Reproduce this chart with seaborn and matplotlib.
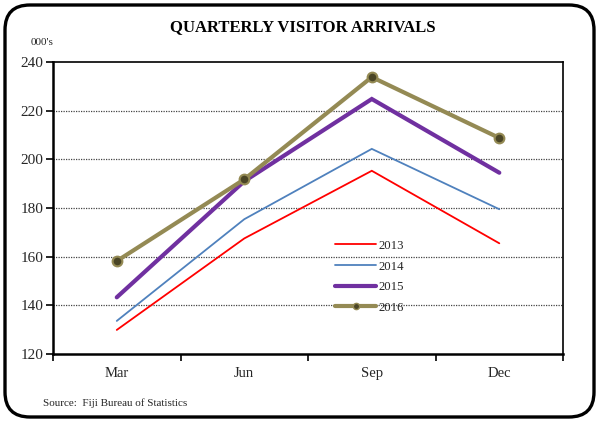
"""
Quarterly visitor arrivals line chart (Fiji Bureau of Statistics).
"""
import numpy as np
import pandas as pd
import matplotlib
matplotlib.use("Agg")
import matplotlib.pyplot as plt
import seaborn as sns
from matplotlib.patches import FancyBboxPatch

# ─────────────────────────────────────────────
# Data (thousands of visitors)
# ─────────────────────────────────────────────
QUARTERS = ["Mar", "Jun", "Sep", "Dec"]
V_2013 = [129.9, 167.5, 195.3, 165.5]
V_2014 = [133.6, 175.4, 204.3, 179.5]
V_2015 = [143.3, 191.0, 224.8, 194.5]
V_2016 = [158.2, 191.8, 233.8, 208.8]
YEARS = ["2013", "2014", "2015", "2016"]
Y_TICKS = [120, 140, 160, 180, 200, 220, 240]

TITLE = "QUARTERLY VISITOR ARRIVALS"
UNIT = "000's"
SOURCE = "Source:  Fiji Bureau of Statistics"

# ─────────────────────────────────────────────
# Styles
# ─────────────────────────────────────────────
STYLES = {
    "2013": dict(color="#FF0000", lw=1.3),
    "2014": dict(color="#4F81BD", lw=1.3),
    "2015": dict(color="#7030A0", lw=3.0),
    "2016": dict(color="#948A54", lw=3.0, marker="o", ms=7,
                 mfc="#4A4526", mec="#948A54", mew=1.5),
}

sns.set_theme(style="white")
plt.rcParams["font.family"] = ["Liberation Serif", "DejaVu Serif"]

df = pd.DataFrame({
    "quarter": QUARTERS * 4,
    "value": V_2013 + V_2014 + V_2015 + V_2016,
    "year": np.repeat(YEARS, len(QUARTERS)),
})

fig = plt.figure(figsize=(5.99, 4.21), dpi=100)
ax = fig.add_axes([0.0885, 0.1591, 0.8515, 0.6936])

for yr in YEARS:
    st = STYLES[yr]
    sub = df[df["year"] == yr]
    kw = dict(color=st["color"], linewidth=st["lw"], label=yr, ax=ax,
              solid_joinstyle="miter")
    if "marker" in st:
        kw.update(marker=st["marker"], markersize=st["ms"],
                  markerfacecolor=st["mfc"], markeredgecolor=st["mec"],
                  markeredgewidth=st["mew"])
    sns.lineplot(data=sub, x="quarter", y="value", **kw)

# axes
ax.set_xlim(-0.5, 3.5)
ax.set_ylim(120, 240)
ax.set_yticks(Y_TICKS)
ax.set_xticks([-0.5, 0.5, 1.5, 2.5, 3.5])
ax.set_xticklabels([])
ax.set_xticks(range(len(QUARTERS)), minor=True)
ax.set_xticklabels(QUARTERS, minor=True, fontsize=10.5)
ax.tick_params(axis="x", which="major", direction="out", length=5,
               width=1.2, color="black", bottom=True)
ax.tick_params(axis="x", which="minor", length=0, pad=9)
ax.tick_params(axis="y", direction="out", length=5, width=1.2,
               color="black", left=True, labelsize=11, pad=2)
ax.set_xlabel("")
ax.set_ylabel("")

for side in ["top", "right", "bottom", "left"]:
    ax.spines[side].set_visible(True)
    ax.spines[side].set_color("black")
    ax.spines[side].set_linewidth(1.2)
ax.spines["left"].set_linewidth(1.8)
ax.spines["bottom"].set_linewidth(1.8)

for yv in Y_TICKS[1:-1]:
    ax.axhline(yv, color="#444444", lw=0.9, ls=(0, (1, 1)), zorder=0.5)

leg = ax.legend(loc="upper left", bbox_to_anchor=(0.553, 0.391),
                frameon=False, fontsize=9.2, handlelength=3.2,
                handletextpad=0.2, labelspacing=0.68, borderpad=0,
                borderaxespad=0)
for h in leg.legend_handles:
    h.set_markersize(4.5)
    h.set_markeredgewidth(1.0)

# text
fig.text(0.505, 0.935, TITLE, ha="center", va="center",
         fontsize=12, fontweight="bold", color="black")
fig.text(0.051, 0.898, UNIT, ha="left", va="center", fontsize=8)
fig.text(0.071, 0.042, SOURCE, ha="left", va="center", fontsize=8)

# rounded outer border
border = FancyBboxPatch((0.05, 0.04), 5.89, 4.12,
                        boxstyle="round,pad=0,rounding_size=0.25",
                        transform=fig.dpi_scale_trans, fill=False,
                        edgecolor="black", linewidth=2.4, clip_on=False)
fig.patches.append(border)

fig.savefig("out.png", dpi=100)
